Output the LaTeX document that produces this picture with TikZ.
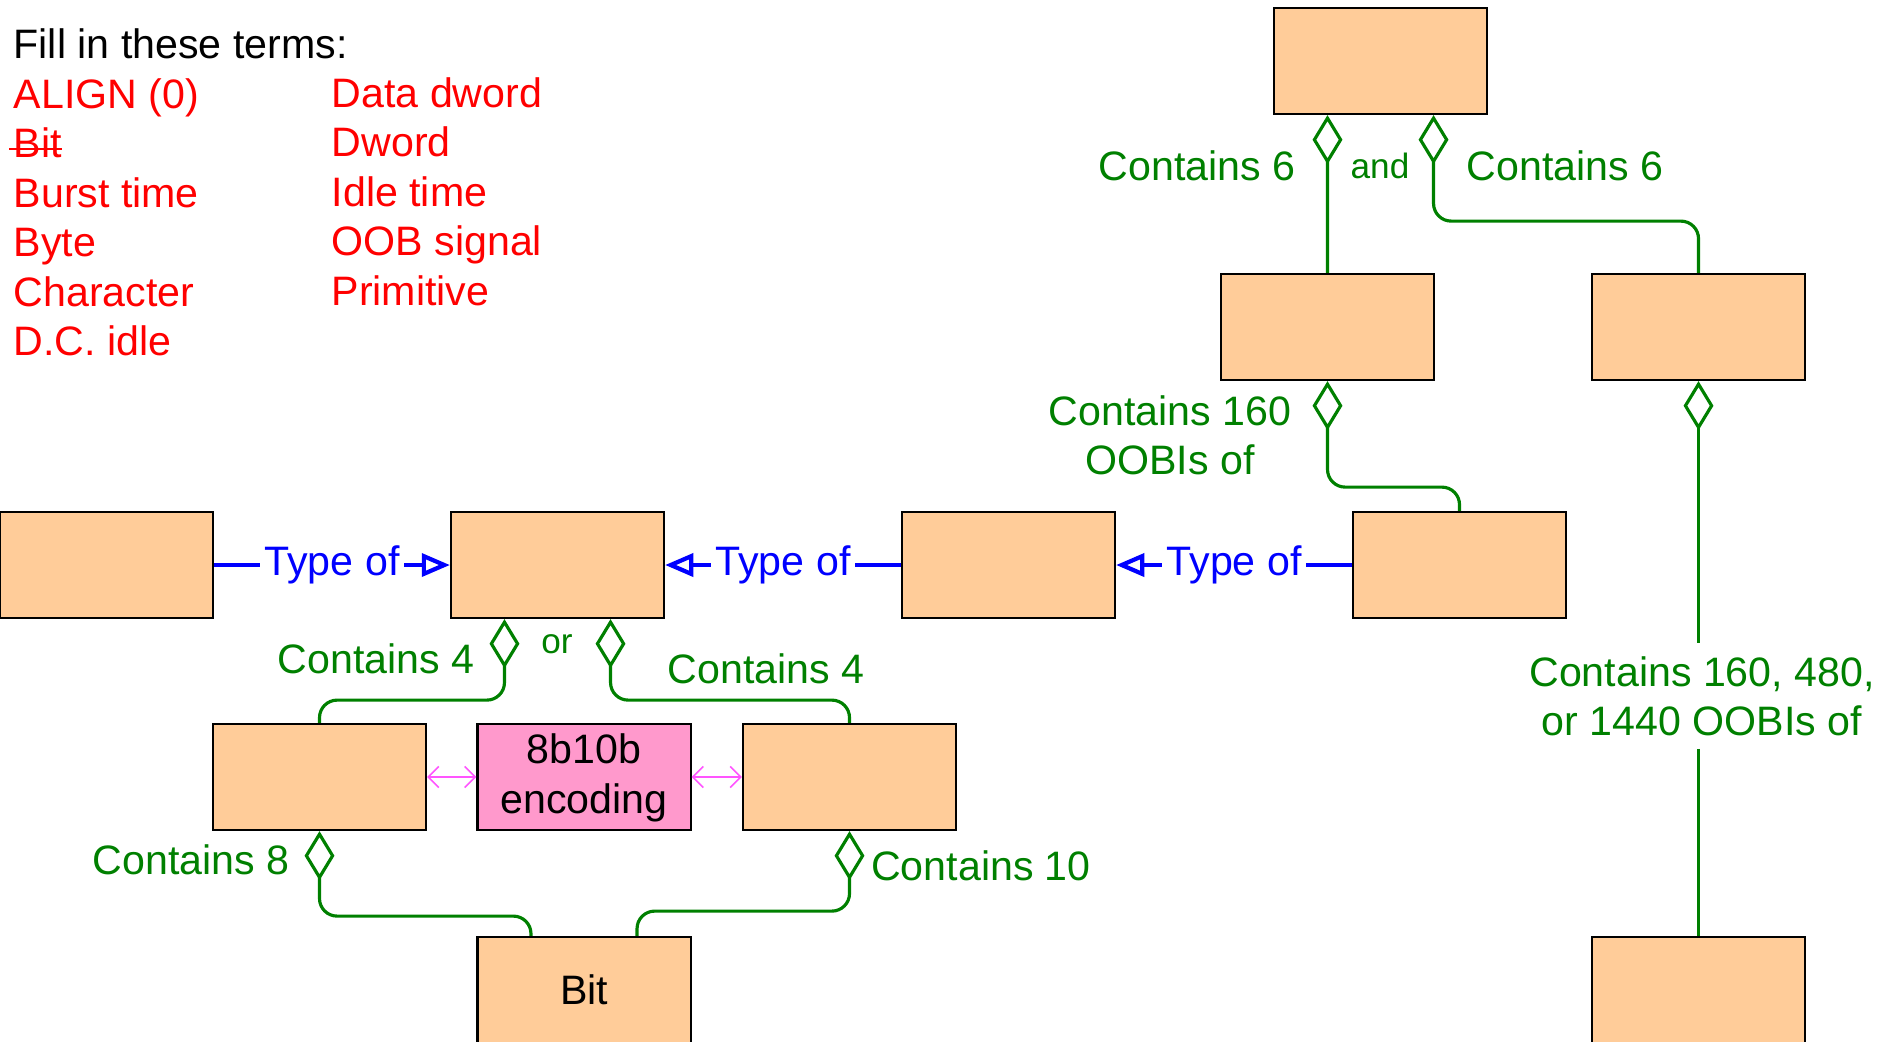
\documentclass[tikz,border=0pt]{standalone}
\usepackage{fontspec}
\setmainfont{Liberation Sans}
\usetikzlibrary{arrows.meta,calc}
\definecolor{peach}{HTML}{FFCC99}
\definecolor{encpink}{HTML}{FF99CC}
\definecolor{hasgreen}{HTML}{008000}
\definecolor{barbpink}{HTML}{FF55FF}
\tikzset{
  box/.style={draw=black,line width=.6pt,fill=peach,minimum width=2.13cm,minimum height=1.06cm,inner sep=0pt},
  encbox/.style={box,fill=encpink,align=center},
  has/.style={draw=hasgreen,line width=.9pt,rounded corners=5pt,arrows={Diamond[open,length=14pt,width=8.5pt]-}},
  hasline/.style={draw=hasgreen,line width=.9pt},
  typeof/.style={draw=blue,line width=1.2pt,arrows={-Triangle[open,length=8pt,width=6.5pt]}},
  enc/.style={draw=barbpink,line width=.45pt,arrows={Straight Barb[length=3pt,width=6pt]-Straight Barb[length=3pt,width=6pt]}},
  haslabel/.style={text=hasgreen,inner sep=0pt},
  typelabel/.style={text=blue,fill=white,inner sep=1.3pt},
  term/.style={text=red,anchor=base west,inner sep=0pt}
}
\begin{document}
\begin{tikzpicture}[x=.01cm,y=-.01cm,font=\fontsize{11.7}{14}\selectfont]
\useasboundingbox (0,0) rectangle (1886,1041);
%terms
\node[anchor=base west,inner sep=0pt] (title) at (13,58){Fill in these terms:};
\node[term] (t1) at (13,108){ALIGN (0)};
\node[term] (t2) at (13,157.5){Bit};
\node[term] (t3) at (13,207){Burst time};
\node[term] (t4) at (13,256.5){Byte};
\node[term] (t5) at (13,306){Character};
\node[term] (t6) at (13,355.5){D.C. idle};
\node[term] (t7) at (331,107){Data dword};
\node[term] (t8) at (331,156.5){Dword};
\node[term] (t9) at (331,206){Idle time};
\node[term] (t10) at (331,255.5){OOB signal};
\node[term] (t11) at (331,305){Primitive};
\draw[red,line width=.8pt] ([xshift=-1pt,yshift=2.4pt]t2.base west) -- ([yshift=2.4pt]t2.base east); %struck out
%boxes
\node[box] (top) at (1380.5,61){};
\node[box] (midl) at (1327.5,327){};
\node[box] (midr) at (1698.5,327){};
\node[box] (a) at (106.5,565){};
\node[box] (b) at (557.5,565){};
\node[box] (c) at (1008.5,565){};
\node[box] (d) at (1459.5,565){};
\node[box] (e) at (319.5,777){};
\node[encbox] (enc) at (584,777){\rule{0pt}{9pt}8b10b\\encoding};
\node[box] (f) at (849.5,777){};
\node[box] (bit) at (584,990){Bit};
\node[box] (g) at (1698.5,990){};
%type of
\draw[typeof] (a.east) -- node[typelabel]{Type of} (b.west);
\draw[typeof] (c.west) -- node[typelabel]{Type of} (b.east);
\draw[typeof] (d.west) -- node[typelabel]{Type of} (c.east);
%encoding
\draw[enc] (e.east) -- (enc.west);
\draw[enc] (enc.east) -- (f.west);
%contains
\draw[has] ([xshift=-.53cm]top.south) -- (midl.north);
\draw[has] ([xshift=.53cm]top.south) -- ++(0,106) -| (midr.north);
\draw[has] (midl.south) -- ++(0,106) -| (d.north);
\node[haslabel,align=center,inner sep=3.5pt] (oob) at (1702,696){Contains 160, 480,\\or 1440 OOBIs of};
\draw[has] (midr.south) -- (midr.south |- oob.north);
\draw[hasline] (g.north |- oob.south) -- (g.north);
\draw[has] ([xshift=-.53cm]b.south) -- ++(0,81) -| (e.north);
\draw[has] ([xshift=.53cm]b.south) -- ++(0,81) -| (f.north);
\draw[has] (e.south) -- ++(0,85) -| ([xshift=-.53cm]bit.north);
\draw[has] (f.south) -- ++(0,80) -| ([xshift=.53cm]bit.north);
%labels
\node[haslabel] (l6a) at (1197,166){Contains 6};
\node[haslabel,font=\fontsize{10}{12}\selectfont] (land) at (1380,166){and};
\node[haslabel] (l6b) at (1565,166){Contains 6};
\node[haslabel,align=center] (l160) at (1170,435){Contains 160\\OOBIs of};
\node[haslabel] (l4a) at (376,659){Contains 4};
\node[haslabel,font=\fontsize{10}{12}\selectfont] (lor) at (557,644){or};
\node[haslabel] (l4b) at (766,669){Contains 4};
\node[haslabel] (l8) at (191,860){Contains 8};
\node[haslabel] (l10) at (981,866){Contains 10};
\end{tikzpicture}
\end{document}
